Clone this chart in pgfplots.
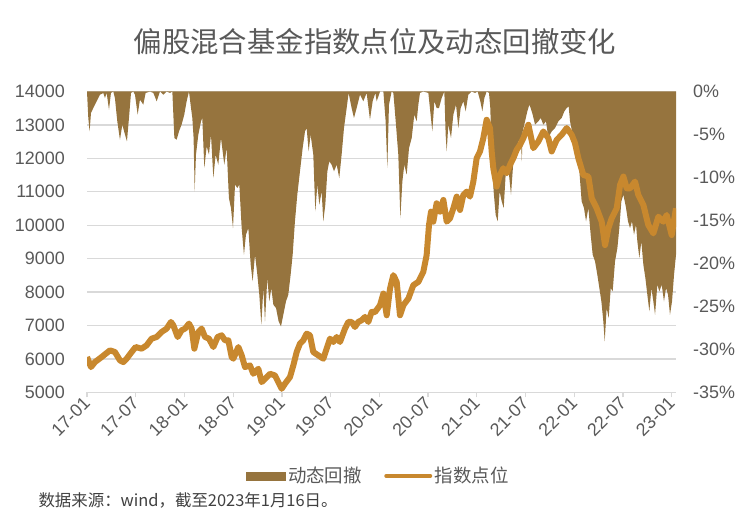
\documentclass[border=0pt]{standalone}
\usepackage{fontspec}
\setmainfont{Liberation Sans}
\newfontfamily\cjk{Noto Sans CJK SC}
\usepackage{pgfplots}
\usepackage{pgfplotstable}
\pgfplotsset{compat=1.18}

\definecolor{ddbrown}{RGB}{150,116,62}
\definecolor{idxorange}{RGB}{200,136,46}
\definecolor{gridgray}{RGB}{217,217,217}
\definecolor{labgray}{RGB}{89,89,89}

% x = months since 2017-01
\pgfplotstableread{
m idx
0.00 6055
0.49 5755
0.98 5905
1.80 6055
2.83 6255
3.44 6205
4.06 5955
4.47 5905
4.88 6005
5.50 6205
5.99 6355
6.73 6305
7.34 6405
7.96 6605
8.58 6655
9.19 6805
9.81 6905
10.34 7105
10.63 7005
11.17 6655
11.65 6855
12.07 6905
12.56 7055
12.89 6905
13.22 6305
13.71 6805
14.12 6905
14.53 6655
15.02 6605
15.56 6355
16.09 6655
16.58 6705
17.00 6555
17.41 6555
17.82 6055
18.02 6005
18.64 6355
19.05 6105
19.46 5755
20.07 5805
20.48 5555
21.10 5705
21.51 5305
22.13 5455
22.54 5555
23.15 5505
23.56 5305
23.97 5105
24.38 5255
25.00 5455
25.41 5805
25.82 6205
26.23 6455
26.64 6555
27.05 6755
27.46 6705
27.87 6205
28.49 6105
29.10 6005
29.51 6305
29.93 6605
30.34 6505
30.75 6655
31.16 6505
31.77 6905
32.18 7105
32.59 7105
33.00 6955
33.41 7105
33.82 7155
34.24 7255
34.65 7105
35.06 7405
35.47 7400
36.09 7605
36.50 7955
36.91 7305
37.32 8105
37.73 8505
38.14 8305
38.55 7305
38.96 7605
39.58 7805
40.19 8205
40.81 8305
41.42 8605
41.83 9105
42.12 10005
42.37 10405
42.65 10105
43.06 10655
43.47 10405
43.89 10755
44.30 10105
44.71 10205
45.12 10505
45.53 10855
45.94 10455
46.35 10905
46.76 11005
47.17 10855
47.58 11305
47.99 12005
48.40 12205
48.81 12605
49.22 13155
49.63 12905
49.84 12205
50.04 11705
50.45 11155
50.86 11505
51.27 11705
51.69 11555
52.10 11805
52.51 12005
52.92 12255
53.33 12405
53.74 12605
54.36 13005
54.97 12305
55.59 12505
56.20 12805
56.82 12605
57.23 12205
57.85 12555
58.46 12705
59.08 12905
59.69 12705
60.10 12455
60.51 12005
61.13 11505
61.75 11455
62.16 10805
62.77 10505
63.39 10105
63.80 9405
64.21 9905
64.62 10205
65.24 10505
65.65 11205
66.06 11455
66.47 11105
66.88 11105
67.49 11305
67.90 10905
68.52 10605
69.13 10005
69.75 9755
70.37 10255
70.98 10105
71.39 10305
72.01 9705
72.54 10505
}\indexdata

\pgfplotstableread{
m dd
0.00 0
0.16 -3.08
0.32 -4.64
0.49 -2.50
0.78 -1.92
1.19 -1.14
1.60 -0.37
2.01 -0.17
2.21 -0.76
2.42 -0.17
2.71 -2.11
2.95 -0.17
3.24 0
3.44 -0.76
3.73 -3.47
4.06 -5.61
4.35 -3.86
4.68 -5.02
4.92 -5.80
5.17 -3.08
5.42 -0.17
5.70 0
5.91 -0.37
6.24 -2.70
6.52 -0.95
6.93 -1.53
7.22 -0.17
7.76 0
8.17 -0.17
8.58 -1.14
8.99 0
9.40 -0.37
9.81 0
10.22 -0.17
10.51 0
10.76 -5.41
11.04 -5.61
11.33 -4.64
11.65 -3.86
11.98 -2.70
12.27 -1.14
12.56 0
12.81 -1.92
12.97 -3.08
13.13 -5.41
13.26 -11.62
13.42 -7.35
13.71 -5.02
14.04 -3.47
14.20 -3.08
14.45 -8.90
14.74 -6.38
15.02 -7.35
15.27 -5.02
15.56 -10.07
15.84 -7.35
16.17 -8.52
16.50 -5.41
16.91 -8.52
17.20 -6.58
17.48 -12.40
17.73 -13.56
17.98 -15.89
18.23 -10.84
18.51 -11.23
18.76 -10.84
19.05 -15.89
19.33 -18.99
19.58 -16.66
19.87 -15.89
20.16 -20.16
20.40 -22.10
20.69 -18.99
20.98 -21.32
21.22 -23.65
21.47 -27.14
21.72 -22.87
21.92 -26.75
22.21 -21.71
22.45 -24.42
22.70 -22.87
22.95 -24.81
23.28 -25.20
23.60 -26.75
23.89 -27.33
24.18 -25.98
24.51 -24.42
24.79 -23.65
25.08 -21.32
25.33 -18.99
25.61 -15.11
25.90 -12.01
26.23 -9.29
26.56 -6.58
26.85 -4.64
27.05 -4.25
27.30 -6.96
27.54 -5.02
27.87 -7.35
28.12 -13.95
28.37 -10.84
28.61 -13.17
28.90 -11.62
29.10 -15.11
29.35 -13.17
29.60 -9.29
29.84 -8.13
30.13 -8.52
30.42 -9.29
30.75 -8.52
31.07 -10.07
31.36 -7.35
31.65 -4.25
31.98 -1.92
32.22 -0.17
32.59 -1.92
32.88 -3.08
33.21 -1.92
33.62 -0.37
34.03 -1.14
34.44 -0.17
34.85 -3.28
35.18 -1.14
35.51 -0.17
35.68 -1.14
36.09 0
36.50 0
36.78 -3.47
36.99 -8.90
37.19 -1.53
37.52 0
37.73 -0.17
38.02 -3.47
38.34 -7.35
38.59 -14.72
38.84 -10.46
39.08 -8.52
39.37 -9.68
39.66 -6.58
39.99 -5.41
40.31 -2.70
40.60 -3.47
40.81 -1.53
41.01 -0.17
41.42 0
42.04 -0.17
42.53 -4.64
42.78 -1.14
43.06 -1.92
43.35 -1.92
43.68 -0.76
44.01 0
44.17 -5.02
44.30 -6.96
44.50 -3.86
44.83 -5.41
45.12 -2.70
45.45 -1.53
45.73 -4.25
46.02 -1.92
46.35 -1.14
46.64 -2.31
46.96 -0.37
47.37 0
47.79 -0.17
48.11 0
48.44 -1.14
48.69 -2.31
48.94 -0.76
49.22 0
49.51 -0.17
49.67 -1.92
49.84 -7.35
50.08 -11.62
50.33 -14.34
50.58 -15.11
50.82 -11.62
51.07 -12.78
51.32 -13.56
51.56 -9.68
51.89 -8.90
52.22 -12.01
52.51 -8.13
52.80 -6.96
53.12 -5.80
53.45 -5.80
53.55 -8.13
53.66 -4.64
53.95 -3.47
54.23 -2.31
54.48 -1.53
54.64 -1.92
54.89 -2.70
55.18 -3.86
55.59 -3.47
55.88 -3.08
56.20 -3.86
56.53 -3.47
56.82 -5.41
57.23 -4.64
57.64 -4.25
58.05 -3.47
58.46 -3.08
58.79 -2.31
59.08 -1.92
59.32 -1.73
59.49 -3.47
59.90 -5.41
60.31 -6.58
60.64 -9.29
60.92 -12.78
61.21 -13.56
61.46 -15.11
61.75 -13.56
62.03 -16.66
62.28 -18.99
62.57 -19.77
62.85 -21.32
63.10 -22.87
63.35 -24.42
63.59 -26.75
63.76 -29.08
64.00 -25.20
64.25 -26.36
64.50 -22.87
64.74 -23.26
65.03 -19.77
65.32 -18.22
65.56 -15.89
65.81 -12.78
66.06 -12.01
66.39 -13.56
66.63 -15.11
66.88 -15.89
67.12 -15.11
67.37 -16.66
67.62 -15.50
67.78 -17.44
68.03 -19.38
68.27 -17.44
68.52 -20.16
68.77 -21.71
69.01 -23.65
69.26 -25.59
69.51 -22.87
69.75 -24.42
69.96 -25.98
70.24 -22.48
70.49 -23.26
70.78 -22.48
71.06 -24.42
71.31 -22.87
71.56 -23.65
71.80 -25.98
72.05 -24.42
72.30 -21.32
72.54 -18.99
}\drawdown

\pgfplotsset{
  base/.style={
    at={(87bp,128.7bp)}, anchor=south west,
    scale only axis, width=589bp, height=300.8bp,
    xmin=0, xmax=72.54,
    /pgf/number format/assume math mode=true,
    tick label style={font=\fontsize{18}{20}\selectfont, text=labgray},
  },
}

\begin{document}
\begin{tikzpicture}
\useasboundingbox (0,0) rectangle (750bp,521bp);

\node[text=labgray, font=\cjk\fontsize{28.5}{32}\selectfont] at (375bp,479bp)
  {偏股混合基金指数点位及动态回撤变化};

% grid, bottom axis and left labels
\begin{axis}[base,
  ymin=5000, ymax=14000,
  ytick={5000,6000,...,14000},
  scaled y ticks=false,
  yticklabel style={/pgf/number format/1000 sep={}, anchor=east, inner sep=0pt},
  ymajorgrids,
  major grid style={draw=gridgray, line width=1.3bp},
  axis x line*=bottom, axis y line*=left,
  x axis line style={draw=gridgray, line width=1.3bp, -},
  y axis line style={draw=none},
  xtick={0,6,...,72},
  xticklabels={17-01,17-07,18-01,18-07,19-01,19-07,20-01,20-07,21-01,21-07,22-01,22-07,23-01},
  x tick style={draw=gridgray, line width=1.3bp},
  y tick style={draw=none},
  tick align=outside,
  major tick length=5bp,
  yticklabel shift=17bp,
  xticklabel style={rotate=45, anchor=east, inner sep=0pt},
  xticklabel shift=3bp,
]
\end{axis}

% drawdown area, right axis
\begin{axis}[base,
  ymin=-35, ymax=0,
  axis x line=none, axis y line*=right,
  y axis line style={draw=none},
  ytick={-35,-30,-25,-20,-15,-10,-5,0},
  yticklabels={-35\%,-30\%,-25\%,-20\%,-15\%,-10\%,-5\%,0\%},
  major tick length=0pt,
  yticklabel style={anchor=west, inner sep=0pt},
  yticklabel shift=17bp,
]
\addplot[fill=ddbrown, draw=none] table[x=m, y=dd] {\drawdown} \closedcycle;
\end{axis}

% index line and legend
\begin{axis}[base,
  ymin=5000, ymax=14000,
  hide axis,
  legend style={at={(0.495,-0.278)}, anchor=center, draw=none, fill=none,
    legend columns=2, font=\cjk\fontsize{18.5}{22}\selectfont, text=labgray,
    /tikz/every even column/.append style={column sep=20bp},
    nodes={inner xsep=2.5bp, inner ysep=1bp}},
]
\addlegendimage{legend image code/.code={\fill[ddbrown] (0bp,-4bp) rectangle (39bp,4bp);}}
\addlegendentry{动态回撤}
\addplot[idxorange, line width=6bp, line join=round,
  legend image code/.code={\draw[idxorange, line width=4bp, line cap=round] (0bp,0bp) -- (44bp,0bp);}]
  table[x=m, y=idx] {\indexdata};
\addlegendentry{指数点位}
\end{axis}

\node[anchor=west, text=black!75, font=\cjk\fontsize{16.5}{20}\selectfont] at (35bp,21bp)
  {数据来源：wind，截至2023年1月16日。};
\end{tikzpicture}
\end{document}
